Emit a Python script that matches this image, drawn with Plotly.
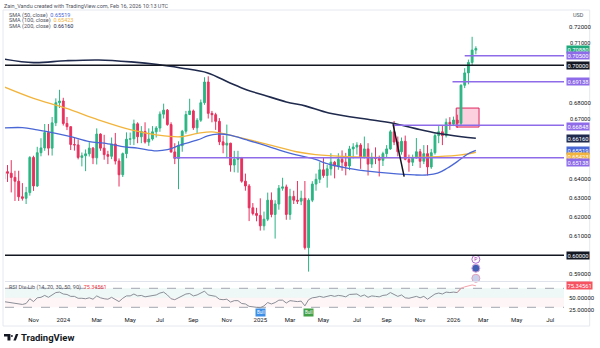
import pandas as pd
import plotly.graph_objects as go

# ---------------- data ----------------
start_week = "2023-09-11"
opens = [.6400,.6440,.6432,.6410,.6390,.6308,.6300,.6330,.6515,.6365,.6540,.6565,.6646,.6564,.6697,.6803,
         .6812,.6694,.6677,.6583,.6581,.6515,.6524,.6534,.6564,.6513,.6638,.6564,.6530,.6521,.6586,.6496,
         .6424,.6535,.6611,.6613,.6692,.6624,.6652,.6596,.6612,.6650,.6670,.6743,.6764,.6688,.6544,.6510,
         .6577,.6653,.6741,.6760,.6671,.6711,.6803,.6912,.6747,.6740,.6705,.6597,.6580,.6590,.6475,.6505,
         .6515,.6390,.6365,.6250,.6220,.6210,.6155,.6190,.6290,.6215,.6270,.6353,.6360,.6215,.6310,.6290,
         .6285,.6300,.6040,.6290,.6375,.6400,.6450,.6420,.6455,.6490,.6470,.6505,.6490,.6470,.6560,.6570,
         .6580,.6515,.6560,.6480,.6515,.6510,.6500,.6535,.6560,.6650,.6596,.6545,.6600,.6505,.6490,.6512,
         .6545,.6495,.6535,.6465,.6540,.6630,.6650,.6630,.6700,.6690,.6712,.6695,.6895,.6960,.7015,.7080]
highs = [.6450,.6475,.6501,.6445,.6445,.6380,.6360,.6522,.6524,.6571,.6616,.6691,.6691,.6728,.6826,.6871,
         .6829,.6728,.6677,.6622,.6610,.6541,.6557,.6595,.6570,.6668,.6642,.6634,.6550,.6620,.6644,.6510,
         .6541,.6647,.6646,.6714,.6700,.6680,.6700,.6668,.6680,.6680,.6757,.6798,.6770,.6700,.6590,.6600,
         .6660,.6760,.6824,.6767,.6722,.6820,.6937,.6942,.6760,.6750,.6722,.6630,.6688,.6592,.6550,.6550,
         .6515,.6430,.6375,.6275,.6250,.6300,.6230,.6330,.6331,.6290,.6370,.6408,.6372,.6350,.6340,.6391,
         .6340,.6391,.6300,.6390,.6430,.6490,.6515,.6475,.6537,.6497,.6537,.6552,.6539,.6576,.6590,.6595,
         .6590,.6625,.6590,.6540,.6568,.6525,.6545,.6580,.6660,.6707,.6625,.6620,.6630,.6530,.6530,.6617,
         .6560,.6580,.6580,.6560,.6640,.6680,.6685,.6720,.6727,.6730,.6740,.6900,.6985,.7030,.7150,.7100]
lows = [.6357,.6386,.6331,.6286,.6286,.6288,.6270,.6314,.6339,.6360,.6521,.6550,.6526,.6525,.6680,.6775,
        .6683,.6659,.6554,.6551,.6505,.6468,.6443,.6520,.6480,.6478,.6550,.6503,.6480,.6506,.6478,.6362,
        .6412,.6511,.6580,.6580,.6590,.6590,.6588,.6576,.6604,.6620,.6650,.6720,.6682,.6540,.6480,.6348,
        .6545,.6640,.6738,.6660,.6640,.6702,.6792,.6720,.6700,.6660,.6580,.6537,.6513,.6440,.6437,.6435,
        .6382,.6340,.6180,.6210,.6179,.6130,.6131,.6180,.6200,.6088,.6240,.6340,.6187,.6187,.6270,.6270,
        .6264,.6030,.5914,.6280,.6340,.6380,.6408,.6356,.6420,.6405,.6450,.6445,.6421,.6448,.6510,.6530,
        .6455,.6510,.6420,.6460,.6480,.6415,.6470,.6515,.6555,.6580,.6521,.6530,.6500,.6440,.6470,.6510,
        .6460,.6480,.6420,.6455,.6530,.6590,.6580,.6620,.6660,.6680,.6670,.6680,.6880,.6900,.7000,.7058]
closes = [.6440,.6432,.6410,.6390,.6308,.6300,.6330,.6515,.6365,.6540,.6565,.6646,.6564,.6697,.6803,.6812,
          .6694,.6677,.6583,.6581,.6515,.6524,.6534,.6564,.6513,.6638,.6564,.6530,.6521,.6586,.6496,.6424,
          .6535,.6611,.6613,.6692,.6624,.6652,.6596,.6612,.6650,.6670,.6743,.6764,.6688,.6544,.6510,.6577,
          .6653,.6741,.6760,.6671,.6711,.6803,.6912,.6747,.6740,.6705,.6597,.6580,.6590,.6475,.6505,.6515,
          .6390,.6365,.6250,.6220,.6210,.6155,.6190,.6290,.6215,.6270,.6353,.6360,.6215,.6310,.6290,.6285,
          .6300,.6040,.6290,.6375,.6400,.6450,.6420,.6455,.6490,.6470,.6505,.6490,.6470,.6560,.6570,.6580,
          .6515,.6560,.6480,.6515,.6510,.6500,.6535,.6560,.6650,.6596,.6545,.6600,.6505,.6490,.6512,.6545,
          .6495,.6535,.6465,.6540,.6630,.6650,.6630,.6700,.6690,.6712,.6695,.6895,.6960,.7015,.7080,.7088]
rsi = [42,41,40,39,37,36,38,48,42,50,51,55,51,57,61,62,
       58,57,53,53,49,49,48,50,47,54,50,48,47,51,46,42,
       49,54,54,58,54,55,52,53,55,56,60,62,56,48,46,50,
       54,58,59,54,56,60,64,56,55,53,47,46,47,41,44,44,
       38,37,32,31,31,29,33,40,37,40,45,45,39,44,43,42,
       43,33,46,50,51,53,51,53,55,53,55,54,52,57,57,58,
       53,56,51,54,53,52,55,56,61,57,53,56,50,49,51,53,
       50,53,47,53,58,60,58,62,61,62,61,70,73,75,77,75.34561]

sma50_dates = ["2023-09-11","2023-10-16","2023-11-13","2023-12-18","2024-01-15","2024-02-19","2024-03-18",
               "2024-04-22","2024-05-20","2024-06-24","2024-07-15","2024-08-09","2024-09-10","2024-09-29",
               "2024-10-17","2024-11-10","2024-12-12","2025-01-12","2025-02-11","2025-03-15","2025-04-20",
               "2025-05-10","2025-06-21","2025-08-05","2025-09-04","2025-10-24","2025-11-17","2025-12-06",
               "2025-12-24","2026-01-12","2026-01-31","2026-02-16"]
sma50 = [0.6670,0.6672,0.6660,0.6642,0.6624,0.6598,0.6590,0.6572,0.6564,0.6550,0.6556,0.6581,0.6607,0.6628,
         0.6638,0.6633,0.6607,0.6581,0.6554,0.6528,0.6505,0.6484,0.6458,0.6440,0.6432,0.6423,0.6423,0.6432,
         0.6458,0.6493,0.6532,0.65519]
sma100_dates = ["2023-09-11","2023-11-06","2024-01-06","2024-03-08","2024-05-08","2024-06-27","2024-08-09",
                "2024-09-10","2024-10-07","2024-11-10","2025-01-12","2025-03-15","2025-04-20","2025-06-21",
                "2025-09-08","2025-12-06","2026-01-19","2026-02-16"]
sma100 = [0.6887,0.6826,0.6774,0.6712,0.6660,0.6633,0.6624,0.6642,0.6650,0.6633,0.6589,0.6545,0.6530,0.6519,
          0.6514,0.6519,0.6528,0.65423]
sma200_dates = ["2023-09-11","2023-11-06","2024-01-06","2024-03-08","2024-05-08","2024-06-27","2024-08-09",
                "2024-09-29","2024-11-10","2024-12-12","2025-01-12","2025-02-24","2025-04-02","2025-05-15",
                "2025-08-05","2025-09-13","2025-10-24","2025-12-06","2026-01-20","2026-02-16"]
sma200 = [0.7033,0.7014,0.7024,0.7028,0.7018,0.7004,0.6986,0.6960,0.6907,0.6870,0.6844,0.6807,0.6785,0.6749,
          0.6712,0.6695,0.6668,0.6642,0.6624,0.66160]

tick_dates = ["2023-11-06","2024-01-01","2024-03-04","2024-05-06","2024-07-01","2024-09-02","2024-11-04",
              "2025-01-06","2025-03-03","2025-05-05","2025-07-07","2025-09-01","2025-11-03","2026-01-05",
              "2026-03-02","2026-05-04","2026-07-06"]
tick_text = ["Nov","2024","Mar","May","Jul","Sep","Nov","2025","Mar","May","Jul","Sep","Nov","2026","Mar","May","Jul"]
price_ticks = [0.72, 0.68, 0.64, 0.63, 0.62, 0.61, 0.59]
crowded_ticks = [0.71, 0.67]   # partly covered by coloured price labels

black_levels = [0.70, 0.60]
purple_levels = [0.70500, 0.69138, 0.66848, 0.65138]
purple_starts = ["2026-01-26", "2026-01-03", "2025-09-13", "2024-07-27"]
zone = {"x0": "2026-01-10", "x1": "2026-02-22", "y0": 0.6675, "y1": 0.6775}
trend = {"x0": "2025-09-13", "y0": 0.6690, "x1": "2025-10-04", "y1": 0.6414}
last_price = 0.70880
rsi_levels = [70, 50, 30]

# ---------------- figure ----------------
dates = pd.date_range(start_week, periods=len(closes), freq="W-MON")
X_RANGE = ["2023-09-13 06:00", "2026-08-01"]
GREEN, RED = "#2bb583", "#e8305e"
PURPLE = "#8e6be8"
NAVY, ORANGE, BLUE = "#1f2a4d", "#f2b43c", "#4a67d6"
TXT = "#131722"
FONT = "Roboto"

W, H, ML, MR, MT, MB = 600, 348, 5, 29, 9, 33
PW, PH = W - ML - MR, H - MT - MB
def px(x):  # pixel x -> paper
    return (x - ML) / PW
def py(y):  # pixel y -> paper
    return (H - MB - y) / PH

rsi_top = py(281.5)

fig = go.Figure()
fig.add_trace(go.Candlestick(
    x=dates, open=opens, high=highs, low=lows, close=closes,
    increasing=dict(line=dict(color=GREEN, width=1), fillcolor=GREEN),
    decreasing=dict(line=dict(color=RED, width=1), fillcolor=RED),
    whiskerwidth=0, hoverinfo="skip", showlegend=False))
fig.add_trace(go.Scatter(x=sma200_dates, y=sma200, mode="lines", line=dict(color=NAVY, width=1.6, shape="spline"),
                         hoverinfo="skip", showlegend=False))
fig.add_trace(go.Scatter(x=sma100_dates, y=sma100, mode="lines", line=dict(color=ORANGE, width=1.3, shape="spline"),
                         hoverinfo="skip", showlegend=False))
fig.add_trace(go.Scatter(x=sma50_dates, y=sma50, mode="lines", line=dict(color=BLUE, width=1.3, shape="spline"),
                         hoverinfo="skip", showlegend=False))

ob = 123
fig.add_trace(go.Scatter(x=dates[:ob + 1], y=rsi[:ob + 1], yaxis="y2", mode="lines",
                         line=dict(color="#8a8d96", width=1), hoverinfo="skip", showlegend=False))
fig.add_trace(go.Scatter(x=dates[ob - 1:], y=rsi[ob - 1:], yaxis="y2", mode="lines",
                         line=dict(color="#f5a3ab", width=1), hoverinfo="skip", showlegend=False))

# event icons near last bar
fig.add_trace(go.Scatter(x=[dates[-1]] * 3, y=[0.5979, 0.5932, 0.5879], mode="markers+text",
                         text=["P", "", ""], textfont=dict(size=5, color="#9c27b0", family=FONT),
                         marker=dict(size=8, color=["white", "#3f5fb5", "#c9d2ec"],
                                     line=dict(color=["#b06ad9", "#d9a6d8", "#e5a0b8"], width=1)),
                         hoverinfo="skip", showlegend=False, cliponaxis=False))

shapes = []
for lv in black_levels:
    shapes.append(dict(type="line", xref="paper", x0=0, x1=1, yref="y", y0=lv, y1=lv,
                       line=dict(color=TXT, width=1.6)))
for lv, st in zip(purple_levels, purple_starts):
    shapes.append(dict(type="line", xref="x", x0=st, x1=X_RANGE[1], yref="y", y0=lv, y1=lv,
                       line=dict(color=PURPLE, width=1.5)))
shapes.append(dict(type="rect", xref="x", yref="y", layer="below", fillcolor="rgba(246,120,160,0.35)",
                   line=dict(color="#e0245e", width=1), **zone))
shapes.append(dict(type="line", xref="x", yref="y", line=dict(color=TXT, width=1.5), **trend))
# RSI bands
shapes.append(dict(type="rect", xref="paper", x0=0, x1=1, yref="y2", y0=rsi_levels[1], y1=rsi_levels[0],
                   fillcolor="rgba(8,153,129,0.07)", line=dict(width=0), layer="below"))
shapes.append(dict(type="rect", xref="paper", x0=0, x1=1, yref="y2", y0=rsi_levels[2], y1=rsi_levels[1],
                   fillcolor="rgba(242,54,69,0.05)", line=dict(width=0), layer="below"))
for lv in (rsi_levels[0], rsi_levels[2]):
    shapes.append(dict(type="line", xref="paper", x0=0, x1=1, yref="y2", y0=lv, y1=lv,
                       line=dict(color="#a3a6af", width=1, dash="dash"), layer="below"))
# pane separator and outer frame
shapes.append(dict(type="line", xref="paper", yref="paper", x0=0, x1=px(597), y0=rsi_top, y1=rsi_top,
                   line=dict(color="#e0e3eb", width=1)))
shapes.append(dict(type="rect", xref="paper", yref="paper", x0=px(3), x1=px(597), y0=py(326), y1=py(10),
                   line=dict(color="#e6e8ee", width=1), layer="below"))
# TradingView logo
shapes.append(dict(type="path", xref="paper", yref="paper",
                   path=f"M {px(4)},{py(334)} L {px(10.5)},{py(334)} L {px(10.5)},{py(340.5)} L {px(7.5)},{py(340.5)} "
                        f"L {px(7.5)},{py(336.5)} L {px(4)},{py(336.5)} Z",
                   fillcolor=TXT, line=dict(width=0)))
shapes.append(dict(type="circle", xref="paper", yref="paper", x0=px(11), x1=px(13), y0=py(337), y1=py(335),
                   fillcolor=TXT, line=dict(width=0)))
shapes.append(dict(type="path", xref="paper", yref="paper",
                   path=f"M {px(13.5)},{py(340.5)} L {px(16)},{py(334)} L {px(18.5)},{py(334)} L {px(16)},{py(340.5)} Z",
                   fillcolor=TXT, line=dict(width=0)))

ann = []
# crowded axis ticks drawn as text, nudged upward so the coloured labels don't cover them
for v in crowded_ticks:
    ann.append(dict(x=px(575), xref="paper", y=v, yref="y", yshift=3.5, text=f"{v:.5f}", showarrow=False,
                    xanchor="left", yanchor="middle", font=dict(size=5.6, color=TXT, family=FONT)))

def label(val, text, bg, shift=0.0, yref="y", fg="white"):
    ann.append(dict(x=px(573), xref="paper", y=val, yref=yref, yshift=shift, text=text, showarrow=False,
                    xanchor="left", yanchor="middle", bgcolor=bg, borderpad=0.5,
                    font=dict(size=5.8, color=fg, family=FONT)))

label(last_price, f"{last_price:.5f}", "#1fa97a", shift=-1)
label(purple_levels[0], f"{purple_levels[0]:.5f}", PURPLE)
label(black_levels[0], f"{black_levels[0]:.5f}", TXT)
label(purple_levels[1], f"{purple_levels[1]:.5f}", PURPLE)
label(purple_levels[2], f"{purple_levels[2]:.5f}", PURPLE, shift=-1)
label(sma200[-1], f"{sma200[-1]:.5f}", NAVY)
label(sma50[-1], f"{sma50[-1]:.5f}", BLUE)
label(sma100[-1], f"{sma100[-1]:.5f}", ORANGE, shift=-4.3)
label(purple_levels[3], f"{purple_levels[3]:.5f}", PURPLE, shift=-5)
label(black_levels[1], f"{black_levels[1]:.5f}", TXT)
label(rsi[-1], f"{rsi[-1]:.5f}", "#f7525f", yref="y2")

def text(x, y, t, size=5.5, color=TXT, anchor="left", bold=False):
    ann.append(dict(x=px(x), y=py(y), xref="paper", yref="paper", text=f"<b>{t}</b>" if bold else t,
                    showarrow=False, xanchor=anchor, yanchor="middle",
                    font=dict(size=size, color=color, family=FONT)))

text(2, 5.7, "Zain_Vandu created with TradingView.com, Feb 16, 2026 10:13 UTC", color="#50535e")
text(7, 15, f"SMA (50, close)  <span style='color:{BLUE}'>{sma50[-1]:.5f}</span>", color="#50535e")
text(7, 20.7, f"SMA (100, close)  <span style='color:{ORANGE}'>{sma100[-1]:.5f}</span>", color="#50535e")
text(7, 26.5, f"SMA (200, close)  <span style='color:{NAVY}'>{sma200[-1]:.5f}</span>", color="#50535e")
text(578, 15, "USD", color="#50535e")
text(7, 287.7, f"RSI Div‑Lib (14, 70, 30, 50, 90)  <span style='color:#f23645'>{rsi[-1]:.5f}</span>",
     color="#50535e")
text(19, 337.5, "TradingView", size=9.5, bold=True)

for d, c in (("2025-01-06", "#3d8ee6"), ("2025-04-07", "#43a047")):
    ann.append(dict(x=d, xref="x", y=19, yref="y2", text="Bull", showarrow=False, bgcolor=c, borderpad=1,
                    font=dict(size=4.5, color="white", family=FONT), xanchor="center", yanchor="middle"))

fig.update_layout(
    width=W, height=H, margin=dict(l=ML, r=MR, t=MT, b=MB),
    paper_bgcolor="white", plot_bgcolor="white",
    font=dict(family=FONT, size=6, color=TXT),
    shapes=shapes, annotations=ann, showlegend=False, hovermode=False,
    xaxis=dict(type="date", range=X_RANGE, anchor="y2", rangeslider=dict(visible=False),
               tickmode="array", tickvals=tick_dates, ticktext=tick_text,
               tickfont=dict(size=6, color=TXT, family=FONT), showgrid=False, zeroline=False,
               showline=False, ticks=""),
    yaxis=dict(domain=[rsi_top, 1], range=[0.586211, 0.729632], side="right", tickmode="array",
               tickvals=price_ticks, ticktext=[f"{v:.5f}" for v in price_ticks],
               tickfont=dict(size=6, color=TXT, family=FONT), showgrid=False, zeroline=False,
               showline=False, ticks="", ticklabelstandoff=4),
    yaxis2=dict(domain=[0, rsi_top], range=[13.8, 84.3], side="right", tickmode="array",
                tickvals=[25, 50], ticktext=["25.00000", "50.00000"],
                tickfont=dict(size=6, color=TXT, family=FONT), showgrid=False, zeroline=False,
                showline=False, ticks="", ticklabelstandoff=4),
)

fig.write_html("out.html")
